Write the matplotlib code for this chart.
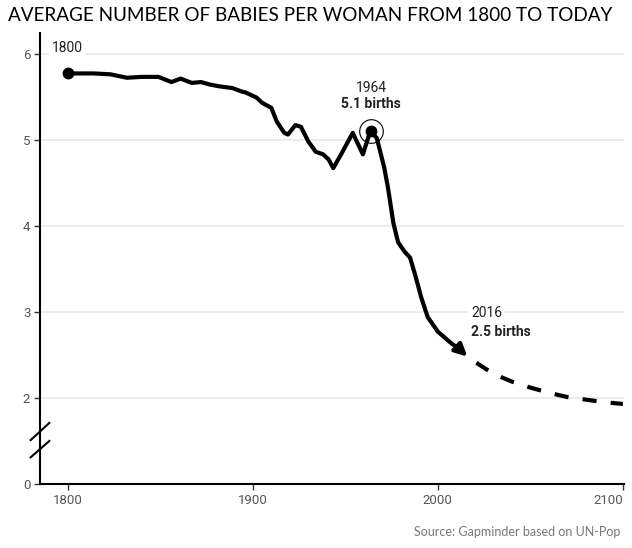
import numpy as np
import matplotlib
matplotlib.use('Agg')
import matplotlib.pyplot as plt
import matplotlib.transforms as mtransforms

# historic series (babies per woman)
hist_years = [1800, 1814, 1823, 1832, 1840, 1849, 1856, 1861, 1867, 1872, 1877,
              1882, 1889, 1894, 1896, 1902, 1905, 1910, 1913, 1917, 1919, 1923,
              1926, 1930, 1934, 1938, 1941, 1943.5, 1948.5, 1954, 1959.5, 1963.5,
              1967, 1971, 1973, 1976, 1978.5, 1982, 1985, 1988, 1991, 1994.5,
              2000, 2007, 2012, 2016]
hist_values = [5.77, 5.77, 5.76, 5.72, 5.73, 5.73, 5.67, 5.71, 5.66, 5.67, 5.64,
               5.62, 5.60, 5.56, 5.55, 5.49, 5.43, 5.37, 5.21, 5.08, 5.06, 5.17,
               5.15, 4.98, 4.86, 4.83, 4.77, 4.67, 4.86, 5.08, 4.83, 5.10,
               5.02, 4.68, 4.45, 4.03, 3.81, 3.70, 3.63, 3.41, 3.17, 2.94,
               2.77, 2.64, 2.56, 2.48]

# UN projection
proj_years = [2016, 2020, 2030, 2040, 2050, 2060, 2070, 2080, 2090, 2100]
proj_values = [2.48, 2.42, 2.28, 2.19, 2.12, 2.06, 2.01, 1.98, 1.95, 1.93]

y_ticks = [1, 2, 3, 4, 5, 6]
y_ticklabels = ['0', '2', '3', '4', '5', '6']
x_ticks = [1800, 1900, 2000, 2100]

narrow = ['Liberation Sans Narrow', 'Roboto', 'DejaVu Sans']
tick_color = '#555555'

fig = plt.figure(figsize=(6.32, 5.48), dpi=100)
ax = fig.add_axes([0.0633, 0.1168, 0.9237, 0.823])

# gridlines
for v in y_ticks[1:]:
    ax.axhline(v, color='#e6e6e6', lw=1.1, zorder=0)

# solid history line, stopping short of the arrow tip
ax.plot(hist_years[:-1], hist_values[:-1], color='black', lw=3,
        solid_joinstyle='round', solid_capstyle='round', zorder=3)
ax.annotate('', xy=(hist_years[-1], hist_values[-1]),
            xytext=(hist_years[-2], hist_values[-2]),
            arrowprops=dict(arrowstyle='-|>', color='black', lw=3,
                            mutation_scale=18, shrinkA=0, shrinkB=0),
            zorder=3)

# dashed projection
ax.plot(proj_years, proj_values, color='black', lw=3,
        linestyle=(4.2, (3.4, 3.4)), zorder=3)

# markers
ax.plot(hist_years[0], hist_values[0], 'o', color='black', ms=7.5, zorder=4)
ax.plot(1964, 5.10, 'o', color='black', ms=7.5, zorder=4)
ax.plot(1964, 5.10, 'o', mfc='none', mec='black', mew=0.8, ms=17, zorder=4)

# annotations
ax.text(1800, 6.07, '1800', ha='center', va='center', fontsize=10,
        family=narrow, color='#222222',
        bbox=dict(facecolor='white', edgecolor='none', pad=2), zorder=2)
ax.text(1964, 5.60, '1964', ha='center', va='center', fontsize=10,
        family=narrow, color='#222222', zorder=2)
ax.text(1964, 5.41, '5.1 births', ha='center', va='center', fontsize=10,
        family=narrow, fontweight='bold', color='#222222', zorder=2)
ax.text(2018, 2.99, '2016', ha='left', va='center', fontsize=10,
        family=narrow, color='#222222',
        bbox=dict(facecolor='white', edgecolor='none', pad=2), zorder=2)
ax.text(2018, 2.77, '2.5 births', ha='left', va='center', fontsize=10,
        family=narrow, fontweight='bold', color='#222222', zorder=2)

# axes styling
ax.set_xlim(1785, 2100.5)
ax.set_ylim(1, 6.24)
ax.set_yticks(y_ticks)
ax.set_yticklabels(y_ticklabels)
ax.set_xticks(x_ticks)
for s in ['top', 'right']:
    ax.spines[s].set_visible(False)
for s in ['left', 'bottom']:
    ax.spines[s].set_linewidth(1.5)
    ax.spines[s].set_color('black')
ax.tick_params(axis='both', length=4, width=1, color='#333333',
               labelcolor=tick_color, labelsize=9.5, pad=3)
for lab in ax.get_xticklabels() + ax.get_yticklabels():
    lab.set_family(narrow)
ax.get_xticklabels()[-1].set_horizontalalignment('right')

# axis break marks on the y axis
trans = mtransforms.blended_transform_factory(ax.transAxes, ax.transData)
for y0, y1 in [(1.51, 1.71), (1.31, 1.50)]:
    ax.plot([-0.016, 0.016], [y0, y1], color='black', lw=1.5,
            transform=trans, clip_on=False, zorder=5)

fig.text(0.013, 0.972, 'AVERAGE NUMBER OF BABIES PER WOMAN FROM 1800 TO TODAY',
         ha='left', va='center', fontsize=13.6, family=['Lato', 'DejaVu Sans'],
         color='black')
fig.text(0.981, 0.029, 'Source: Gapminder based on UN-Pop', ha='right',
         va='center', fontsize=9, family=['Lato', 'DejaVu Sans'], color='#777777')

fig.savefig('out.png', dpi=100)
